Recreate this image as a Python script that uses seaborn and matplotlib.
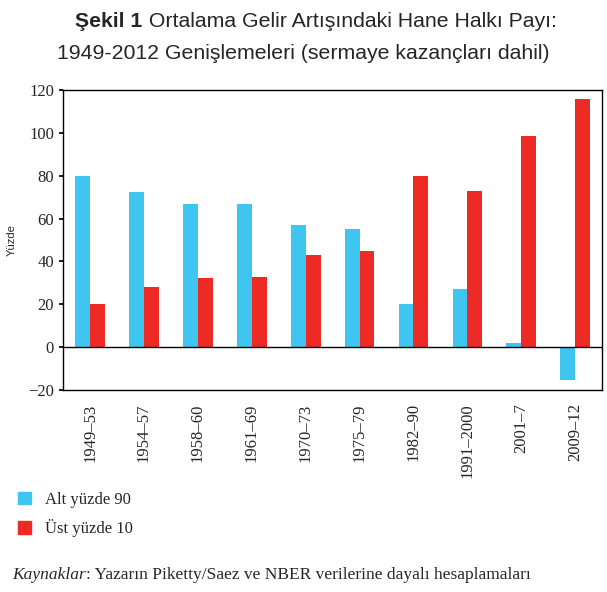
import matplotlib
matplotlib.use("Agg")
import matplotlib.pyplot as plt
import seaborn as sns
import pandas as pd

periods = ["1949–53","1954–57","1958–60","1961–69","1970–73","1975–79","1982–90","1991–2000","2001–7","2009–12"]
bottom90 = [80, 72.5, 67, 67, 57, 55, 20, 27, 2, -15.5]
top10 = [20, 28, 32.5, 33, 43, 45, 80, 73, 98.5, 116]
series = ["Alt yüzde 90", "Üst yüzde 10"]

df = pd.DataFrame({"period": periods*2, "value": bottom90+top10,
                   "group": [series[0]]*10 + [series[1]]*10})

sns.set_theme(style="white")
plt.rcParams['font.family'] = ['Liberation Serif', 'DejaVu Sans']
fig = plt.figure(figsize=(6.07, 5.92), dpi=100)
ax = fig.add_axes([0.104, 0.341, 0.888, 0.507])
sns.barplot(data=df, x="period", y="value", hue="group", ax=ax, width=0.55,
            palette=["#3EC6F0", "#EE2A24"], saturation=1, legend=False, linewidth=0)
ax.set_ylim(-20, 120)
ax.set_xlim(-0.5, 9.5)
ax.set_yticks(range(-20, 121, 20))
ax.axhline(0, color="black", lw=1)
for s in ax.spines.values():
    s.set_color("black"); s.set_linewidth(1)
ax.tick_params(axis="y", labelsize=12, left=True, length=3, color="black")
ax.tick_params(axis="x", labelsize=12, rotation=90, bottom=False)
ax.set_xlabel("")
ax.set_ylabel("Yüzde", family="Liberation Sans", fontsize=8, labelpad=8)

t1 = fig.text(0.124, 0.955, "Şekil 1", family="Liberation Sans", weight="bold", fontsize=15.3, va="baseline")
ax.annotate(" Ortalama Gelir Artışındaki Hane Halkı Payı:", xy=(1, 0), xycoords=t1,
            family="Liberation Sans", fontsize=15.3, va="bottom", annotation_clip=False)
fig.text(0.5, 0.90, "1949-2012 Genişlemeleri (sermaye kazançları dahil)",
         family="Liberation Sans", fontsize=15.3, ha="center", va="baseline")

from matplotlib.patches import Patch
fig.legend(handles=[Patch(color="#3EC6F0"), Patch(color="#EE2A24")], labels=series,
           loc="upper left", bbox_to_anchor=(0.005, 0.195), frameon=False, fontsize=12,
           handlelength=0.8, handleheight=0.8, handletextpad=0.8, labelspacing=0.7)

t2 = fig.text(0.02, 0.022, "Kaynaklar", style="italic", fontsize=12.5, va="baseline")
ax.annotate(": Yazarın Piketty/Saez ve NBER verilerine dayalı hesaplamaları", xy=(1, 0),
            xycoords=t2, fontsize=12.5, va="bottom", annotation_clip=False)
fig.savefig("out.png", dpi=100)
